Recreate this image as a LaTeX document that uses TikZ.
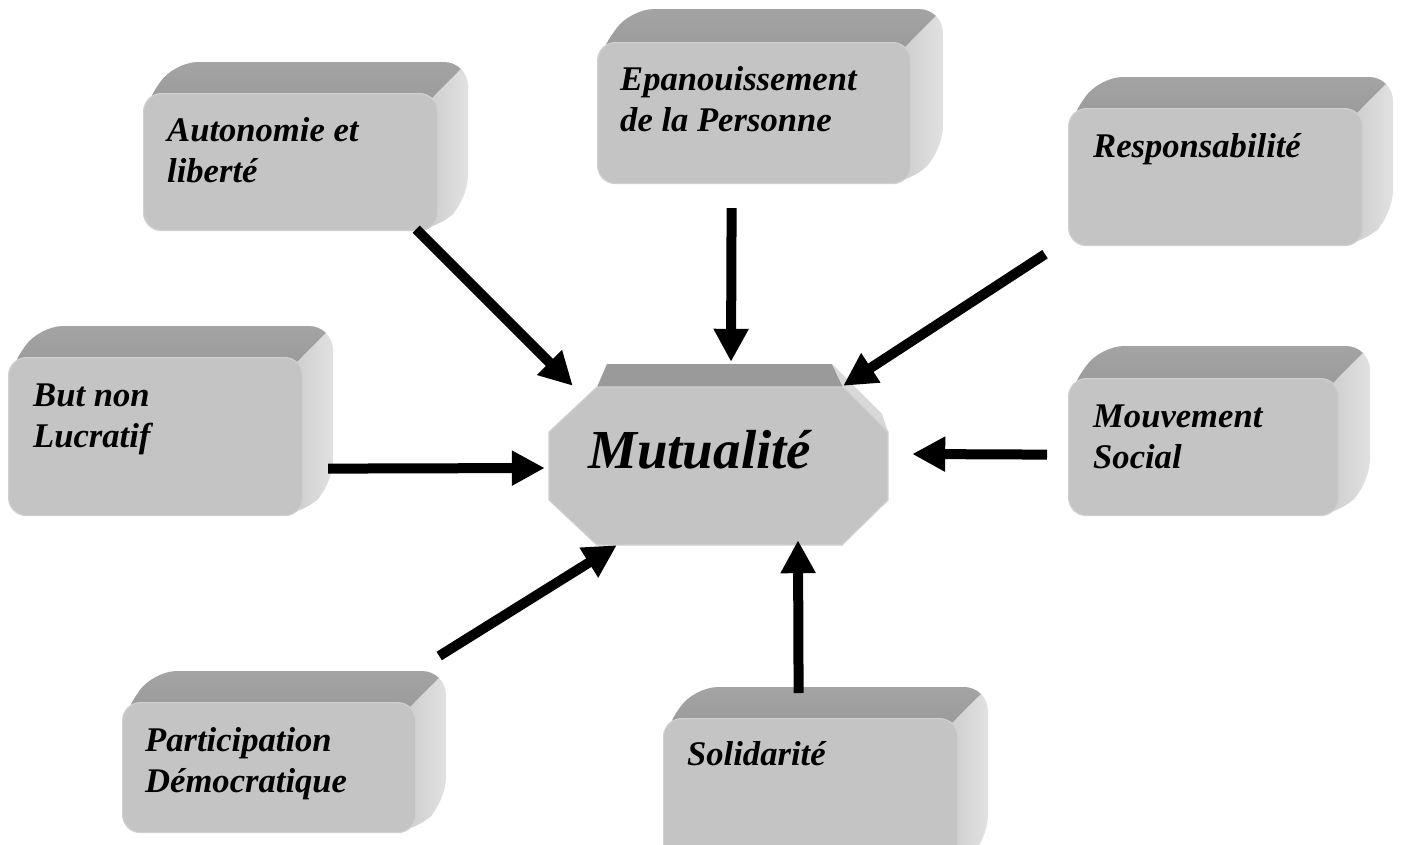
\documentclass[tikz,border=0pt]{standalone}
\usepackage{fontspec}
\setmainfont{Liberation Serif}
\usetikzlibrary{arrows.meta,calc}
\definecolor{frontc}{HTML}{C4C4C4}
\definecolor{frontedge}{HTML}{D0D0D0}
\definecolor{topA}{HTML}{A6A6A6}
\definecolor{topB}{HTML}{989898}
\definecolor{sideA}{HTML}{C8C8C8}
\definecolor{sideB}{HTML}{E6E6E6}
\definecolor{octtop}{HTML}{9A9A9A}
\definecolor{octlight}{HTML}{D8D8D8}
% #1 x1, #2 y1, #3 x2, #4 y2, #5 depth  (pixel coordinates, y downwards)
\newcommand\boxbody[5]{%
  \begin{scope}
    \clip[rounded corners=24pt] (#1,#2+14) -- (#1+#5,#2-#5) -- (#3+#5,#2-#5) -- (#3+#5,#4-#5) -- (#3,#4) -- (#1,#4) -- cycle;
    \shade[top color=topA, bottom color=topB] (#1-5,#2+20) -- (#1-5,#2-#5-10) -- (#3+#5+10,#2-#5-10) -- (#3,#2) -- (#3,#2+20) -- cycle;
    \shade[left color=sideA, right color=sideB] (#3-20,#2+20) -- (#3,#2) -- (#3+#5+10,#2-#5-10) -- (#3+#5+10,#4+20) -- (#3-20,#4+20) -- cycle;
  \end{scope}}
\tikzset{
  face/.style={draw=frontedge, line width=1.2pt, fill=frontc, rounded corners=18pt, inner sep=0pt, anchor=north west},
  lbl/.style={anchor=north west, inner sep=0pt, align=left, font=\bfseries\itshape\fontsize{34.6}{41}\selectfont},
  arr/.style={line width=10pt, -{Triangle[length=33pt,width=33pt]}}
}
\begin{document}
\begin{tikzpicture}[x=1pt,y=-1pt]
\useasboundingbox (0,0) rectangle (1404,844);
\fill[white] (0,0) rectangle (1404,844);
\begin{scope}
\clip (0,0) rectangle (1404,844);
% boxes
\boxbody{143}{93}{437}{230}{31}
\node[face, minimum width=294pt, minimum height=137pt] (auto) at (143,93) {};
\node[lbl] (autoL) at (167,141-26) {\rule{0pt}{26pt}Autonomie et\\liberté};

\boxbody{597}{42}{910}{183}{33}
\node[face, minimum width=313pt, minimum height=141pt] (epan) at (597,42) {};
\node[lbl] (epanL) at (620,90-26) {\rule{0pt}{26pt}Epanouissement\\de la Personne};

\boxbody{1068}{108}{1362}{245}{31}
\node[face, minimum width=294pt, minimum height=137pt] (resp) at (1068,108) {};
\node[lbl] (respL) at (1093,157-26) {\rule{0pt}{26pt}Responsabilité};

\boxbody{8}{357}{302}{515}{31}
\node[face, minimum width=294pt, minimum height=158pt] (but) at (8,357) {};
\node[lbl] (butL) at (33,406-26) {\rule{0pt}{26pt}But non\\Lucratif};

\boxbody{1068}{378}{1338}{515}{32}
\node[face, minimum width=270pt, minimum height=137pt] (mouv) at (1068,378) {};
\node[lbl] (mouvL) at (1093,427-26) {\rule{0pt}{26pt}Mouvement\\Social};

\boxbody{122}{702}{415}{832}{31}
\node[face, minimum width=293pt, minimum height=130pt] (part) at (122,702) {};
\node[lbl] (partL) at (145,751-26) {\rule{0pt}{26pt}Participation\\Démocratique};

\boxbody{663}{718}{957}{870}{31}
\node[face, minimum width=294pt, minimum height=152pt] (solid) at (663,718) {};
\node[lbl] (solidL) at (687,765-26) {\rule{0pt}{26pt}Solidarité};

% central octagon
\node[inner sep=0pt, minimum width=339pt, minimum height=158pt] (mut) at (718.5,466) {};
\fill[octtop] (597,387) -- (607,364) -- (832,364) -- (843,387) -- cycle;
\fill[octlight] (832,364) -- (882,414) -- (888,432) -- (843,387) -- cycle;
\fill[frontc, draw=frontedge, line width=1.2pt] (597,387) -- (843,387) -- (888,432) -- (888,500) -- (842,545) -- (597,545) -- (549,500) -- (549,432) -- cycle;
\node[anchor=north west, inner sep=0pt, font=\bfseries\itshape\fontsize{55}{60}\selectfont] (mutL) at (588,468-42) {\rule{0pt}{42pt}Mutualité};

% arrows
\draw[arr] ([xshift=-22pt,yshift=2pt]auto.south east) -- ([xshift=24pt,yshift=1pt]mut.north west);
\draw[arr] ([xshift=-22.5pt,yshift=-24pt]epan.south) -- ([xshift=12.5pt,yshift=25pt]mut.north);
\draw[arr] ([xshift=-23pt,yshift=-8pt]resp.south west) -- ([xshift=-45pt,yshift=1pt]mut.north east);
\draw[arr] ([xshift=25pt,yshift=-32pt]but.east) -- ([xshift=-4pt,yshift=-2pt]mut.west);
\draw[arr] ([xshift=-21pt,yshift=-7.5pt]mouv.west) -- ([xshift=24pt,yshift=12pt]mut.east);
\draw[arr] ([xshift=23pt,yshift=46pt]part.north east) -- ([xshift=68pt]mut.south west);
\draw[arr] ([xshift=-12pt,yshift=25pt]solid.north) -- ([xshift=79.5pt,yshift=5pt]mut.south);
\end{scope}
\end{tikzpicture}
\end{document}
